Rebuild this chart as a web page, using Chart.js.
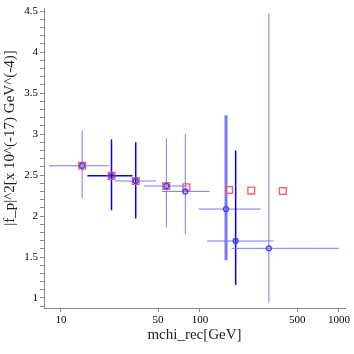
<!DOCTYPE html>
<html>
<head>
<meta charset="utf-8">
<script src="https://cdn.jsdelivr.net/npm/chart.js@4/dist/chart.umd.min.js"></script>
<style>
  html, body { margin: 0; padding: 0; background: #fff; }
  #wrap { width: 354px; height: 354px; position: relative; }
</style>
</head>
<body>
<div id="wrap"><canvas id="fp-chart"></canvas></div>
<script>
// blue points with error bars
const massX = [14.2, 23.1, 34.5, 57.3, 78.4, 154, 180.6, 313];
const fpBlue = [2.613, 2.49, 2.427, 2.366, 2.30, 2.085, 1.695, 1.606];
const xLow = [8.2, 15.5, 24.4, 39.4, 53.2, 97.5, 112.6, 169];
const xHigh = [22, 32.7, 48.2, 83, 117, 273, 338, 996];
const yLow = [2.22, 2.07, 1.97, 1.86, 1.78, 1.46, 1.16, 0.948];
const yHigh = [3.04, 2.935, 2.90, 2.95, 3.0, 3.23, 2.80, 4.47];
// red squares
const redX = [14.2, 23.1, 34.5, 57.3, 80, 162, 234, 395];
const fpRed = [2.613, 2.49, 2.427, 2.366, 2.35, 2.317, 2.31, 2.305];
// tick labels
const xTickVals = [10, 50, 100, 500, 1000];

// bar look: l = light, d = dark, t = thick light
const hLook = ["l", "d", "l", "l", "l", "l", "l", "l"];
const vLook = ["l", "d", "d", "l", "l", "t", "d", "l"];
const looks = {
    l: { color: "rgb(120,120,255)", width: 1 },
    d: { color: "rgb(0,0,255)", width: 1.5 },
    t: { color: "rgb(120,120,255)", width: 3 }
};

const serif = "'Liberation Serif', 'DejaVu Serif', serif";

const errorBars = {
    id: "errorBars",
    beforeDatasetsDraw(chart) {
        const c = chart.ctx, xs = chart.scales.x, ys = chart.scales.y;
        c.save();
        c.beginPath();
        c.rect(chart.chartArea.left, chart.chartArea.top, chart.chartArea.width, chart.chartArea.height);
        c.clip();
        for (let i = 0; i < massX.length; i++) {
            const px = xs.getPixelForValue(massX[i]);
            const py = ys.getPixelForValue(fpBlue[i]);
            let s = looks[hLook[i]];
            c.strokeStyle = s.color; c.lineWidth = s.width;
            c.beginPath();
            c.moveTo(xs.getPixelForValue(xLow[i]), py);
            c.lineTo(xs.getPixelForValue(xHigh[i]), py);
            c.stroke();
            s = looks[vLook[i]];
            c.strokeStyle = s.color; c.lineWidth = s.width;
            c.beginPath();
            c.moveTo(px, ys.getPixelForValue(yLow[i]));
            c.lineTo(px, ys.getPixelForValue(yHigh[i]));
            c.stroke();
        }
        c.restore();
    }
};

const yTitle = {
    id: "yTitle",
    afterDraw(chart) {
        const c = chart.ctx;
        c.save();
        c.translate(10, 138);
        c.rotate(-Math.PI / 2);
        c.font = "15px " + serif;
        c.fillStyle = "#222";
        c.textAlign = "center";
        c.textBaseline = "middle";
        c.fillText("|f_p|^2[x 10^(-17) GeV^(-4)]", 0, 0);
        c.restore();
    }
};

document.addEventListener("DOMContentLoaded", function() {
    const ctx = document.getElementById("fp-chart").getContext("2d");

    new Chart(ctx, {
        type: "scatter",
        data: {
            datasets: [
                {
                    label: "blue",
                    data: massX.map((x, i) => ({ x: x, y: fpBlue[i] })),
                    pointStyle: "circle",
                    pointRadius: 2.5,
                    borderColor: "rgb(60,60,255)",
                    backgroundColor: "rgba(0,0,0,0)",
                    borderWidth: 1.3
                },
                {
                    label: "red",
                    data: redX.map((x, i) => ({ x: x, y: fpRed[i] })),
                    pointStyle: "rect",
                    pointRadius: 4.8,
                    borderColor: "rgb(255,85,85)",
                    backgroundColor: "rgba(0,0,0,0)",
                    borderWidth: 1.3
                }
            ]
        },
        options: {
            responsive: true,
            maintainAspectRatio: false,
            animation: false,
            layout: { padding: { top: 8, right: 9, bottom: 6 } },
            plugins: {
                legend: { display: false },
                tooltip: { enabled: false }
            },
            scales: {
                x: {
                    type: "logarithmic",
                    min: 7.55,
                    max: 1105,
                    afterBuildTicks: s => { s.ticks = xTickVals.map(v => ({ value: v })); },
                    afterFit: s => { s.height = 40; },
                    ticks: {
                        color: "#000",
                        font: { family: serif, size: 11 },
                        padding: 2,
                        maxRotation: 0,
                        autoSkip: false,
                        callback: v => String(v)
                    },
                    grid: { drawOnChartArea: false, tickLength: 4, color: "#888" },
                    border: { color: "#888" },
                    title: {
                        display: true,
                        text: "mchi_rec[GeV]",
                        color: "#222",
                        font: { family: serif, size: 15 },
                        padding: { top: 4 }
                    }
                },
                y: {
                    min: 0.878,
                    max: 4.53,
                    afterBuildTicks: s => {
                        const t = [];
                        for (let k = 9; k <= 45; k++) t.push({ value: k / 10 });
                        s.ticks = t;
                    },
                    afterFit: s => { s.width = 44; },
                    ticks: {
                        color: "#000",
                        font: { family: serif, size: 11 },
                        padding: 2,
                        autoSkip: false,
                        callback: v => {
                            const k = Math.round(v * 10);
                            return k % 5 === 0 ? String(k / 10) : "";
                        }
                    },
                    grid: { drawOnChartArea: false, tickLength: 4, color: "#888" },
                    border: { color: "#888" }
                }
            }
        },
        plugins: [errorBars, yTitle]
    });
});
</script>
</body>
</html>
